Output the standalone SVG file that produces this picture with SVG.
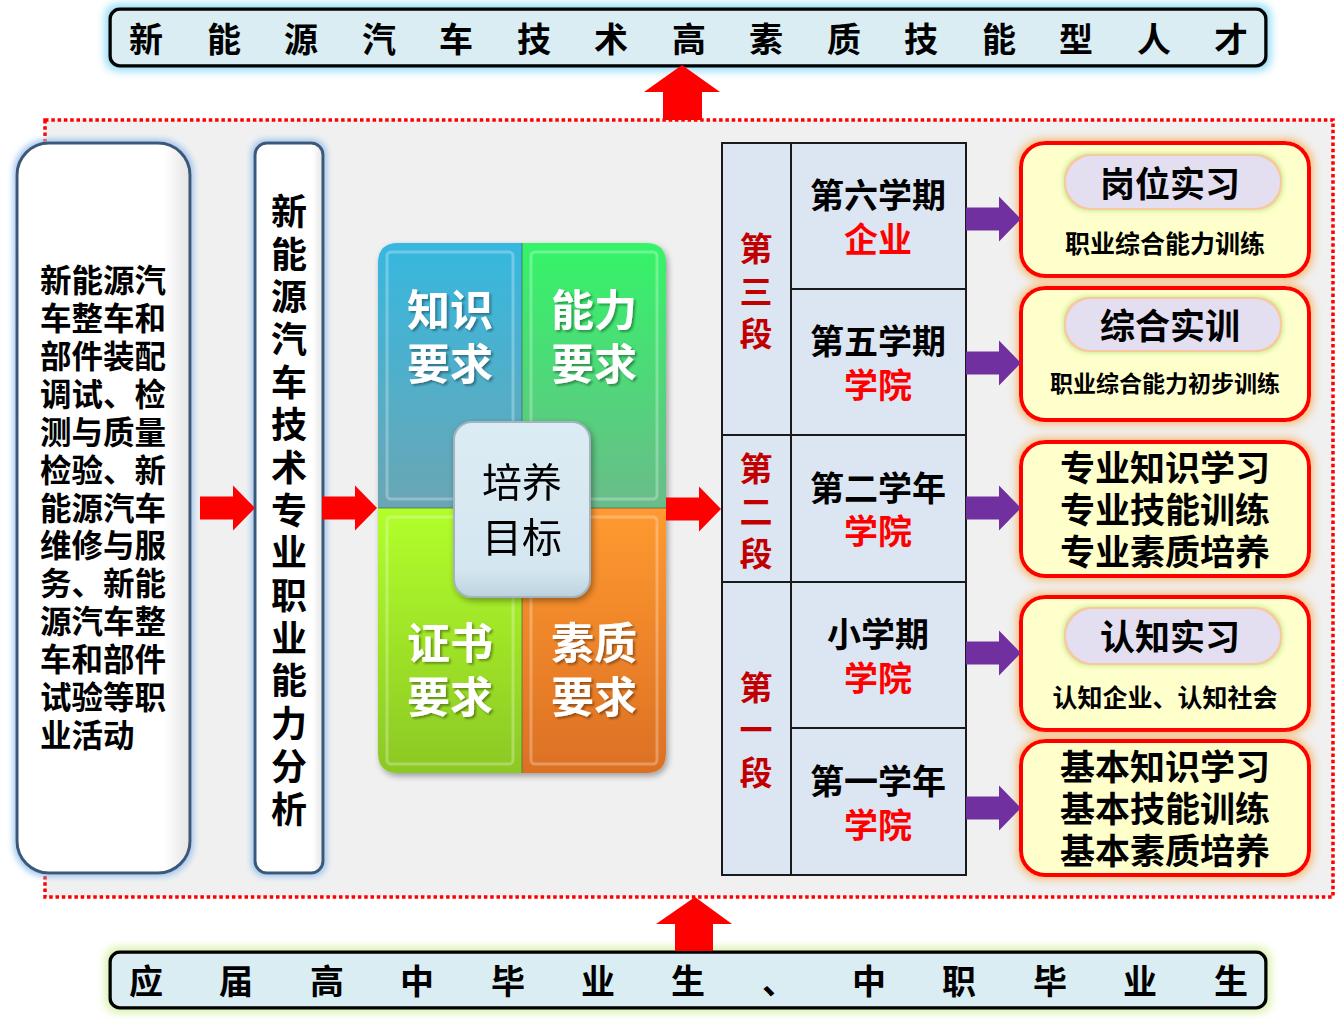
<svg xmlns="http://www.w3.org/2000/svg" width="1344" height="1031" viewBox="0 0 1344 1031">
<defs>
<style>
.cjk{font-family:"Liberation Sans","Noto Sans CJK SC",sans-serif;font-weight:bold}
.ser{font-family:"Liberation Serif","Noto Sans CJK SC",serif;font-weight:normal}
.c,.c tspan{text-anchor:middle;dominant-baseline:central}
text.c{transform:translate(0px,3px)}
.banner{fill:#daedf3;stroke:#000;stroke-width:3.5}
.bt{font-size:34px;fill:#000}
.tbl{fill:#dce6f2;stroke:#1a1a1a;stroke-width:2}
.stg{font-size:33px;fill:#c00000}
.sem{font-size:34px;fill:#000}
.org{fill:#ff0000}
.rbox{fill:#ffffcc;stroke:#ff0000;stroke-width:4}
.pill{fill:#e4dff0}
.big{font-size:35px;fill:#000}
.sub{font-size:25px;fill:#000}
.qt{font-size:43px;fill:#fff}
.red{fill:#ff0000}
.pur{fill:#7030a0}
</style>
<filter id="glowBlue" x="-10%" y="-50%" width="120%" height="200%">
<feMorphology in="SourceAlpha" operator="dilate" radius="3" result="d"/>
<feGaussianBlur in="d" stdDeviation="4" result="b"/>
<feFlood flood-color="#8fdcf5"/>
<feComposite in2="b" operator="in" result="g"/>
<feMerge><feMergeNode in="g"/><feMergeNode in="SourceGraphic"/></feMerge>
</filter>
<filter id="glowGreen" x="-10%" y="-50%" width="120%" height="200%">
<feMorphology in="SourceAlpha" operator="dilate" radius="3" result="d"/>
<feGaussianBlur in="d" stdDeviation="4" result="b"/>
<feFlood flood-color="#d8f2a8"/>
<feComposite in2="b" operator="in" result="g"/>
<feMerge><feMergeNode in="g"/><feMergeNode in="SourceGraphic"/></feMerge>
</filter>
<filter id="glowBox" x="-30%" y="-10%" width="160%" height="120%">
<feMorphology in="SourceAlpha" operator="dilate" radius="2" result="d"/>
<feGaussianBlur in="d" stdDeviation="3" result="b"/>
<feFlood flood-color="#9cc3ee"/>
<feComposite in2="b" operator="in" result="g"/>
<feMerge><feMergeNode in="g"/><feMergeNode in="SourceGraphic"/></feMerge>
</filter>
<filter id="glowOrange" x="-10%" y="-20%" width="120%" height="140%">
<feMorphology in="SourceAlpha" operator="dilate" radius="2" result="d"/>
<feGaussianBlur in="d" stdDeviation="4" result="b"/>
<feFlood flood-color="#f8b870"/>
<feComposite in2="b" operator="in" result="g"/>
<feMerge><feMergeNode in="g"/><feMergeNode in="SourceGraphic"/></feMerge>
</filter>
<filter id="glowPill" x="-20%" y="-40%" width="140%" height="180%">
<feMorphology in="SourceAlpha" operator="dilate" radius="3" result="d"/>
<feGaussianBlur in="d" stdDeviation="2.5" result="b"/>
<feFlood flood-color="#c8ec90"/>
<feComposite in2="b" operator="in" result="g"/>
<feMorphology in="SourceAlpha" operator="dilate" radius="2" result="d2"/>
<feFlood flood-color="#f8c8a0"/>
<feComposite in2="d2" operator="in" result="p"/>
<feMerge><feMergeNode in="g"/><feMergeNode in="p"/><feMergeNode in="SourceGraphic"/></feMerge>
</filter>
<filter id="shadow" x="-10%" y="-10%" width="130%" height="130%">
<feGaussianBlur in="SourceAlpha" stdDeviation="3"/>
<feOffset dx="2" dy="3" result="o"/>
<feComponentTransfer><feFuncA type="linear" slope="0.35"/></feComponentTransfer>
<feMerge><feMergeNode/><feMergeNode in="SourceGraphic"/></feMerge>
</filter>
<filter id="tshadow" x="-10%" y="-10%" width="130%" height="130%">
<feGaussianBlur in="SourceAlpha" stdDeviation="1"/>
<feOffset dx="1.5" dy="1.5"/>
<feComponentTransfer><feFuncA type="linear" slope="0.35"/></feComponentTransfer>
<feMerge><feMergeNode/><feMergeNode in="SourceGraphic"/></feMerge>
</filter>
<linearGradient id="gBlue" x1="0" y1="0" x2="0" y2="1"><stop offset="0" stop-color="#36b8e0"/><stop offset="1" stop-color="#6aa6b4"/></linearGradient>
<linearGradient id="gGreen" x1="0" y1="0" x2="0" y2="1"><stop offset="0" stop-color="#34f468"/><stop offset="1" stop-color="#6abc8a"/></linearGradient>
<linearGradient id="gLime" x1="0" y1="0" x2="0" y2="1"><stop offset="0" stop-color="#b2ff2c"/><stop offset="1" stop-color="#8cc824"/></linearGradient>
<linearGradient id="gOrange" x1="0" y1="0" x2="0" y2="1"><stop offset="0" stop-color="#ff9a30"/><stop offset="1" stop-color="#dc7024"/></linearGradient>
<linearGradient id="gWhite" x1="0" y1="0" x2="1" y2="0"><stop offset="0" stop-color="#ffffff"/><stop offset="0.85" stop-color="#ffffff"/><stop offset="1" stop-color="#e4e4e4"/></linearGradient>
<linearGradient id="gCenter" x1="0" y1="0" x2="0" y2="1"><stop offset="0" stop-color="#dcecf4"/><stop offset="0.85" stop-color="#d4e6f0"/><stop offset="1" stop-color="#bcd2de"/></linearGradient>
<path id="arrR" d="M0,-11.5 L33,-11.5 L33,-22.5 L55,0 L33,22.5 L33,11.5 L0,11.5 Z"/>
</defs>

<rect width="1344" height="1031" fill="#ffffff"/>

<g id="frame">
<rect x="45" y="120" width="1288" height="777" fill="#f0f0f0" stroke="#ff0000" stroke-width="3.5" stroke-dasharray="3.5 2.8"/>
</g>

<g id="top-banner" filter="url(#glowBlue)">
<rect class="banner" x="110" y="9" width="1156" height="57" rx="10"/>
</g>
<text id="top-banner-text" class="cjk bt c" y="37"><tspan x="146">新</tspan><tspan x="224">能</tspan><tspan x="301">源</tspan><tspan x="379">汽</tspan><tspan x="456">车</tspan><tspan x="534">技</tspan><tspan x="611">术</tspan><tspan x="689">高</tspan><tspan x="766">素</tspan><tspan x="844">质</tspan><tspan x="921">技</tspan><tspan x="999">能</tspan><tspan x="1076">型</tspan><tspan x="1154">人</tspan><tspan x="1231">才</tspan></text>

<g id="bottom-banner" filter="url(#glowGreen)">
<rect class="banner" x="110" y="952" width="1156" height="56" rx="10"/>
</g>
<text id="bottom-banner-text" class="cjk bt c" y="979"><tspan x="146">应</tspan><tspan x="236">届</tspan><tspan x="327">高</tspan><tspan x="417">中</tspan><tspan x="508">毕</tspan><tspan x="598">业</tspan><tspan x="688">生</tspan><tspan x="779">、</tspan><tspan x="869">中</tspan><tspan x="959">职</tspan><tspan x="1050">毕</tspan><tspan x="1140">业</tspan><tspan x="1231">生</tspan></text>

<g id="career-box">
<g filter="url(#glowBox)"><rect x="17" y="143" width="173" height="730" rx="32" fill="url(#gWhite)" stroke="#3b5878" stroke-width="3"/></g>
<text class="cjk" font-size="31.5" fill="#000"><tspan x="40" y="292">新能源汽</tspan><tspan x="40" y="330">车整车和</tspan><tspan x="40" y="368">部件装配</tspan><tspan x="40" y="406">调试、检</tspan><tspan x="40" y="444">测与质量</tspan><tspan x="40" y="482">检验、新</tspan><tspan x="40" y="520">能源汽车</tspan><tspan x="40" y="557">维修与服</tspan><tspan x="40" y="595">务、新能</tspan><tspan x="40" y="633">源汽车整</tspan><tspan x="40" y="671">车和部件</tspan><tspan x="40" y="709">试验等职</tspan><tspan x="40" y="747">业活动</tspan></text>
</g>

<g id="analysis-box">
<g filter="url(#glowBox)"><rect x="255" y="143" width="68" height="730" rx="12" fill="url(#gWhite)" stroke="#3b5878" stroke-width="3"/></g>
<text class="cjk c" font-size="36" fill="#000"><tspan x="289" y="209">新</tspan><tspan x="289" y="252">能</tspan><tspan x="289" y="294">源</tspan><tspan x="289" y="337">汽</tspan><tspan x="289" y="380">车</tspan><tspan x="289" y="422">技</tspan><tspan x="289" y="465">术</tspan><tspan x="289" y="508">专</tspan><tspan x="289" y="550">业</tspan><tspan x="289" y="593">职</tspan><tspan x="289" y="636">业</tspan><tspan x="289" y="678">能</tspan><tspan x="289" y="721">力</tspan><tspan x="289" y="764">分</tspan><tspan x="289" y="807">析</tspan></text>
</g>

<g id="goal-quad">
<g filter="url(#shadow)">
<path d="M378,263 Q378,243 398,243 L522,243 L522,508 L378,508 Z" fill="url(#gBlue)"/>
<path d="M522,243 L646,243 Q666,243 666,263 L666,508 L522,508 Z" fill="url(#gGreen)"/>
<path d="M378,508 L522,508 L522,773 L398,773 Q378,773 378,753 Z" fill="url(#gLime)"/>
<path d="M522,508 L666,508 L666,753 Q666,773 646,773 L522,773 Z" fill="url(#gOrange)"/>
</g>
<g fill="none" stroke="#ffffff" stroke-opacity="0.28" stroke-width="3">
<rect x="387" y="252" width="126" height="247" rx="4"/>
<rect x="531" y="252" width="126" height="247" rx="4"/>
<rect x="387" y="517" width="126" height="247" rx="4"/>
<rect x="531" y="517" width="126" height="247" rx="4"/>
</g>
<g stroke="#4a6a50" stroke-opacity="0.5" stroke-width="1.5">
<line x1="522" y1="243" x2="522" y2="773"/>
<line x1="378" y1="508" x2="666" y2="508"/>
</g>
<g class="cjk qt" filter="url(#tshadow)">
<text class="c"><tspan x="450" y="308">知识</tspan><tspan x="450" y="362">要求</tspan></text>
<text class="c"><tspan x="594" y="308">能力</tspan><tspan x="594" y="362">要求</tspan></text>
<text class="c"><tspan x="450" y="641">证书</tspan><tspan x="450" y="695">要求</tspan></text>
<text class="c"><tspan x="594" y="641">素质</tspan><tspan x="594" y="695">要求</tspan></text>
</g>
<g filter="url(#shadow)">
<rect x="454" y="422" width="136" height="175" rx="18" fill="url(#gCenter)" stroke="#a4b4be" stroke-width="2"/>
</g>
<text class="ser c" font-size="40" fill="#000"><tspan x="522" y="480">培养</tspan><tspan x="522" y="535">目标</tspan></text>
</g>

<g id="stage-table">
<rect class="tbl" x="722" y="143" width="244" height="732"/>
<g stroke="#1a1a1a" stroke-width="2">
<line x1="791" y1="143" x2="791" y2="875"/>
<line x1="791" y1="289" x2="966" y2="289"/>
<line x1="722" y1="435" x2="966" y2="435"/>
<line x1="722" y1="582" x2="966" y2="582"/>
<line x1="791" y1="728" x2="966" y2="728"/>
</g>
<text class="cjk stg c"><tspan x="756" y="246">第</tspan><tspan x="756" y="289">三</tspan><tspan x="756" y="331">段</tspan></text>
<text class="cjk stg c"><tspan x="756" y="466">第</tspan><tspan x="756" y="509">二</tspan><tspan x="756" y="551">段</tspan></text>
<text class="cjk stg c"><tspan x="756" y="685">第</tspan><tspan x="756" y="727">一</tspan><tspan x="756" y="770">段</tspan></text>
<text class="cjk sem c"><tspan x="878" y="193">第六学期</tspan><tspan class="org" x="878" y="237">企业</tspan></text>
<text class="cjk sem c"><tspan x="878" y="339">第五学期</tspan><tspan class="org" x="878" y="383">学院</tspan></text>
<text class="cjk sem c"><tspan x="878" y="486">第二学年</tspan><tspan class="org" x="878" y="529">学院</tspan></text>
<text class="cjk sem c"><tspan x="878" y="632">小学期</tspan><tspan class="org" x="878" y="676">学院</tspan></text>
<text class="cjk sem c"><tspan x="878" y="779">第一学年</tspan><tspan class="org" x="878" y="823">学院</tspan></text>
</g>

<g id="box-internship">
<g filter="url(#glowOrange)"><rect class="rbox" x="1021" y="143" width="288" height="133" rx="24"/></g>
<g filter="url(#glowPill)"><rect class="pill" x="1066" y="156" width="214" height="52" rx="26"/></g>
<text class="cjk big c" x="1170" y="181">岗位实习</text>
<text class="cjk sub c" x="1165" y="241" font-size="25.5">职业综合能力训练</text>
</g>

<g id="box-training">
<g filter="url(#glowOrange)"><rect class="rbox" x="1021" y="288" width="288" height="132" rx="24"/></g>
<g filter="url(#glowPill)"><rect class="pill" x="1066" y="299" width="214" height="51" rx="25"/></g>
<text class="cjk big c" x="1170" y="323">综合实训</text>
<text class="cjk c" x="1165" y="381" font-size="23" fill="#000">职业综合能力初步训练</text>
</g>

<g id="box-professional">
<g filter="url(#glowOrange)"><rect class="rbox" x="1021" y="442" width="288" height="134" rx="24"/></g>
<text class="cjk big c"><tspan x="1165" y="465">专业知识学习</tspan><tspan x="1165" y="507">专业技能训练</tspan><tspan x="1165" y="549">专业素质培养</tspan></text>
</g>

<g id="box-cognition">
<g filter="url(#glowOrange)"><rect class="rbox" x="1021" y="597" width="288" height="133" rx="24"/></g>
<g filter="url(#glowPill)"><rect class="pill" x="1066" y="609" width="214" height="54" rx="27"/></g>
<text class="cjk big c" x="1170" y="634">认知实习</text>
<text class="cjk sub c" x="1165" y="695" font-size="25.5">认知企业、认知社会</text>
</g>

<g id="box-basic">
<g filter="url(#glowOrange)"><rect class="rbox" x="1021" y="741" width="288" height="134" rx="24"/></g>
<text class="cjk big c"><tspan x="1165" y="764">基本知识学习</tspan><tspan x="1165" y="806">基本技能训练</tspan><tspan x="1165" y="848">基本素质培养</tspan></text>
</g>

<g id="connectors">
<path class="red" d="M682,65 L720,92 L702,92 L702,120 L663,120 L663,92 L644,92 Z"/>
<path class="red" d="M695,897 L732,924 L713,924 L713,951 L675,951 L675,924 L656,924 Z"/>
<use href="#arrR" class="red" x="200" y="508"/>
<use href="#arrR" class="red" x="322" y="508"/>
<use href="#arrR" class="red" x="666" y="509"/>
<use href="#arrR" class="pur" x="966" y="219"/>
<use href="#arrR" class="pur" x="966" y="363"/>
<use href="#arrR" class="pur" x="966" y="508"/>
<use href="#arrR" class="pur" x="966" y="653"/>
<use href="#arrR" class="pur" x="966" y="808"/>
</g>
</svg>
